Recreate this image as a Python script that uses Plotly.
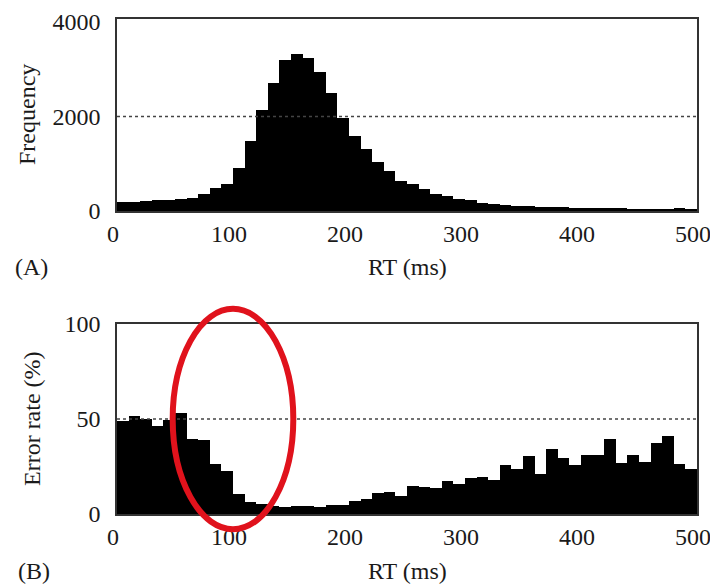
import plotly.graph_objects as go

# ---- data ----
bin_start_ms = [0, 10, 20, 30, 40, 50, 60, 70, 80, 90,
                100, 110, 120, 130, 140, 150, 160, 170, 180, 190,
                200, 210, 220, 230, 240, 250, 260, 270, 280, 290,
                300, 310, 320, 330, 340, 350, 360, 370, 380, 390,
                400, 410, 420, 430, 440, 450, 460, 470, 480, 490]
bin_width_ms = 10

frequency = [190, 200, 215, 230, 240, 245, 265, 365, 490, 575,
             910, 1490, 2140, 2715, 3190, 3320, 3240, 2930, 2485, 1965,
             1595, 1310, 1030, 855, 645, 570, 455, 370, 315, 260,
             225, 175, 155, 125, 110, 105, 90, 85, 75, 70,
             63, 70, 63, 56, 50, 50, 42, 42, 56, 50]

error_rate = [48.8, 51.8, 50.2, 46.5, 49.7, 53.0, 39.5, 39.0, 26.5, 22.6,
              10.3, 6.4, 5.2, 4.3, 3.7, 4.1, 4.3, 3.7, 4.6, 4.8,
              6.9, 7.8, 11.2, 11.7, 9.6, 14.6, 14.1, 13.7, 17.4, 15.8,
              19.0, 19.4, 18.0, 25.6, 23.7, 30.4, 20.8, 34.0, 29.5, 25.6,
              30.8, 31.3, 39.5, 27.0, 30.8, 27.4, 37.2, 41.0, 26.2, 23.7]

x_ticks = [0, 100, 200, 300, 400, 500]
freq_ticks = [0, 2000, 4000]
err_ticks = [0, 50, 100]
freq_ref = 2000
err_ref = 50
# highlighted region (ellipse) in data units: RT centre/half-width, error centre/half-height
ellipse_rt = (100, 52)
ellipse_err = (50, 58)

# ---- styling ----
FONT = "Liberation Serif"
TXT = "#1a1a1a"
FS = 24
top_dom = [0.6121, 1.0]
bot_dom = [0.0, 0.3838]
freq_range = [0, 4060]
err_range = [0, 100]

bin_centres = [b + bin_width_ms / 2 for b in bin_start_ms]

fig = go.Figure()
fig.add_trace(go.Bar(x=bin_centres, y=frequency, width=bin_width_ms,
                     marker=dict(color="#000000", line=dict(width=0)),
                     xaxis="x", yaxis="y", showlegend=False))
fig.add_trace(go.Bar(x=bin_centres, y=error_rate, width=bin_width_ms,
                     marker=dict(color="#000000", line=dict(width=0)),
                     xaxis="x2", yaxis="y2", showlegend=False))

axis_common = dict(showline=True, mirror=True, linecolor="#333333", linewidth=1.5,
                   showgrid=False, zeroline=False, ticks="", automargin=False,
                   tickfont=dict(family=FONT, size=FS, color=TXT))

fig.update_layout(
    width=710, height=585,
    margin=dict(l=117, r=13, t=19, b=71),
    paper_bgcolor="white", plot_bgcolor="white",
    bargap=0,
    font=dict(family=FONT, size=FS, color=TXT),
    xaxis=dict(domain=[0, 1], range=[0, 500], tickvals=x_ticks, anchor="y",
               ticklabelstandoff=0, ticklabelshift=-4, ticklabeloverflow="allow", **axis_common),
    yaxis=dict(domain=top_dom, range=freq_range, tickvals=freq_ticks, anchor="x",
               ticklabelstandoff=10, **axis_common),
    xaxis2=dict(domain=[0, 1], range=[0, 500], tickvals=x_ticks, anchor="y2",
                ticklabelstandoff=0, ticklabelshift=-4, ticklabeloverflow="allow", **axis_common),
    yaxis2=dict(domain=bot_dom, range=err_range, tickvals=err_ticks, anchor="x2",
                ticklabelstandoff=10, **axis_common),
)

# dotted reference lines
fig.add_shape(type="line", xref="x domain", yref="y", x0=0, x1=1, y0=freq_ref, y1=freq_ref,
              line=dict(color="#444444", width=1.5, dash="dot"))
fig.add_shape(type="line", xref="x2 domain", yref="y2", x0=0, x1=1, y0=err_ref, y1=err_ref,
              line=dict(color="#444444", width=1.5, dash="dot"))

# red ellipse (extends beyond the lower panel vertically, so y uses paper coords)
def err_to_paper(v):
    return bot_dom[0] + (v - err_range[0]) / (err_range[1] - err_range[0]) * (bot_dom[1] - bot_dom[0])

fig.add_shape(type="circle", xref="x2", yref="paper",
              x0=ellipse_rt[0] - ellipse_rt[1], x1=ellipse_rt[0] + ellipse_rt[1],
              y0=err_to_paper(ellipse_err[0] - ellipse_err[1]),
              y1=err_to_paper(ellipse_err[0] + ellipse_err[1]),
              line=dict(color="#e0121c", width=6), fillcolor="rgba(0,0,0,0)")

tfont = dict(family=FONT, size=FS, color=TXT)
ann = [
    dict(text="Frequency", x=0, y=(top_dom[0] + top_dom[1]) / 2, xref="paper", yref="paper",
         xshift=-90, textangle=-90, showarrow=False, font=tfont, xanchor="center", yanchor="middle"),
    dict(text="Error rate (%)", x=0, y=(bot_dom[0] + bot_dom[1]) / 2, xref="paper", yref="paper",
         xshift=-85, textangle=-90, showarrow=False, font=tfont, xanchor="center", yanchor="middle"),
    dict(text="RT (ms)", x=0.5, y=top_dom[0], xref="paper", yref="paper", yshift=-56,
         showarrow=False, font=tfont, xanchor="center", yanchor="middle"),
    dict(text="RT (ms)", x=0.5, y=bot_dom[0], xref="paper", yref="paper", yshift=-57,
         showarrow=False, font=tfont, xanchor="center", yanchor="middle"),
    dict(text="(A)", x=0, y=top_dom[0], xref="paper", yref="paper", xshift=-86, yshift=-56,
         showarrow=False, font=tfont, xanchor="center", yanchor="middle"),
    dict(text="(B)", x=0, y=bot_dom[0], xref="paper", yref="paper", xshift=-83, yshift=-57,
         showarrow=False, font=tfont, xanchor="center", yanchor="middle"),
]
fig.update_layout(annotations=ann)

fig.write_html("out.html")
